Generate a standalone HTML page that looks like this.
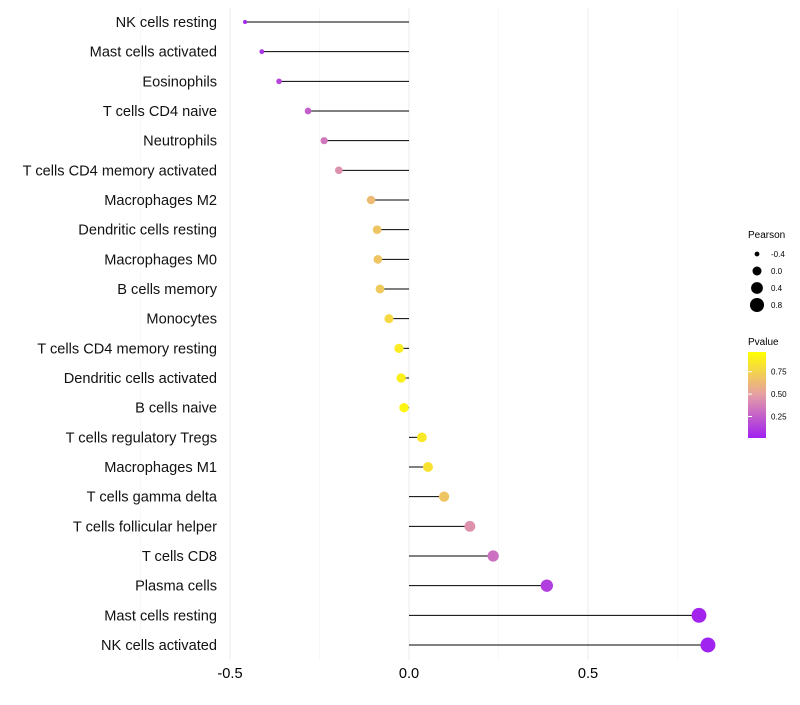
<!DOCTYPE html>
<html><head><meta charset="utf-8"><style>
body{margin:0;background:#fff;font-family:"Liberation Sans",sans-serif;}
svg text{font-family:"Liberation Sans",sans-serif;}
</style></head><body>
<svg id="c" width="800" height="700">
<defs><linearGradient id="pg" x1="0" y1="1" x2="0" y2="0">
<stop offset="0" stop-color="#A020F0"/><stop offset="0.5" stop-color="#E59EA6"/><stop offset="1" stop-color="#FFFF00"/>
</linearGradient></defs>
<g id="grid"></g><g id="marks"></g><g id="labels"></g>
<g>
<text x="748" y="238" font-size="10">Pearson</text>
<g id="sizeleg"></g>
<text x="748" y="345" font-size="10">Pvalue</text>
<rect x="748" y="352" width="18" height="86" fill="url(#pg)"/>
<g id="colleg"></g>
</g>
</svg>
<script>
const categories=["NK cells resting","Mast cells activated","Eosinophils","T cells CD4 naive","Neutrophils","T cells CD4 memory activated","Macrophages M2","Dendritic cells resting","Macrophages M0","B cells memory","Monocytes","T cells CD4 memory resting","Dendritic cells activated","B cells naive","T cells regulatory  Tregs ","Macrophages M1","T cells gamma delta","T cells follicular helper","T cells CD8","Plasma cells","Mast cells resting","NK cells activated"];
const pearson=[-0.458,-0.411,-0.363,-0.282,-0.237,-0.196,-0.106,-0.089,-0.087,-0.081,-0.056,-0.028,-0.022,-0.014,0.036,0.053,0.098,0.170,0.235,0.385,0.810,0.835];
const pvalue=[0.03,0.08,0.15,0.25,0.35,0.45,0.65,0.7,0.7,0.72,0.8,0.9,0.92,0.95,0.88,0.85,0.7,0.45,0.32,0.12,0.02,0.01];
const xTicks=[-0.5,0,0.5];
const xTickLabels=["-0.5","0.0","0.5"];
const sizeLegend=[-0.4,0.0,0.4,0.8];
const colLegend=[0.25,0.5,0.75];
const NS="http://www.w3.org/2000/svg";
const X=v=>409+v*358;
const Y=i=>22+i*(623/21);
const R=v=>Math.sqrt(Math.max(1,22.5+40.3*v));
function mix(a,b,t){const p=s=>[1,3,5].map(k=>parseInt(s.substr(k,2),16));const A=p(a),B=p(b);return "rgb("+A.map((x,k)=>Math.round(x+(B[k]-x)*t)).join(",")+")";}
function col(p){return p<0.5?mix("#A020F0","#E59EA6",p/0.5):mix("#E59EA6","#FFFF00",(p-0.5)/0.5);}
function mk(tag,at,par){const e=document.createElementNS(NS,tag);for(const k in at)e.setAttribute(k,at[k]);document.getElementById(par).appendChild(e);return e;}
[-0.75,-0.25,0.25,0.75].forEach(v=>{const l=mk("line",{x1:X(v),x2:X(v),y1:8,y2:660,stroke:"#f2f2f2","stroke-width":0.5},"grid");});
xTicks.forEach((v,i)=>{const l=mk("line",{x1:X(v),x2:X(v),y1:8,y2:660,stroke:"#ebebeb","stroke-width":1},"grid");
const t=mk("text",{x:X(v),y:678,"font-size":14.6,"text-anchor":"middle",fill:"#000"},"labels");t.textContent=xTickLabels[i];});
categories.forEach((c,i)=>{
const l=mk("line",{x1:X(0),x2:X(pearson[i]),y1:Y(i),y2:Y(i),stroke:"#000","stroke-width":1},"marks");
const d=mk("circle",{cx:X(pearson[i]),cy:Y(i),r:R(pearson[i]),fill:col(pvalue[i])},"marks");
const t=mk("text",{x:217,y:Y(i)+5,"font-size":14.6,"text-anchor":"end",fill:"#111"},"labels");t.textContent=c;
});
sizeLegend.forEach((v,i)=>{const y=254+i*17;const d=mk("circle",{cx:757,cy:y,r:R(v)*0.95,fill:"#000"},"sizeleg");
const t=mk("text",{x:771,y:y+3,"font-size":8},"sizeleg");t.textContent=v.toFixed(1);});
colLegend.forEach(p=>{const y=438-(p-0.01)/0.96*86;const t=mk("text",{x:771,y:y+3,"font-size":8},"colleg");t.textContent=p.toFixed(2);
const l=mk("line",{x1:748,x2:752,y1:y,y2:y,stroke:"#fff"},"colleg");});
</script>
</body></html>
